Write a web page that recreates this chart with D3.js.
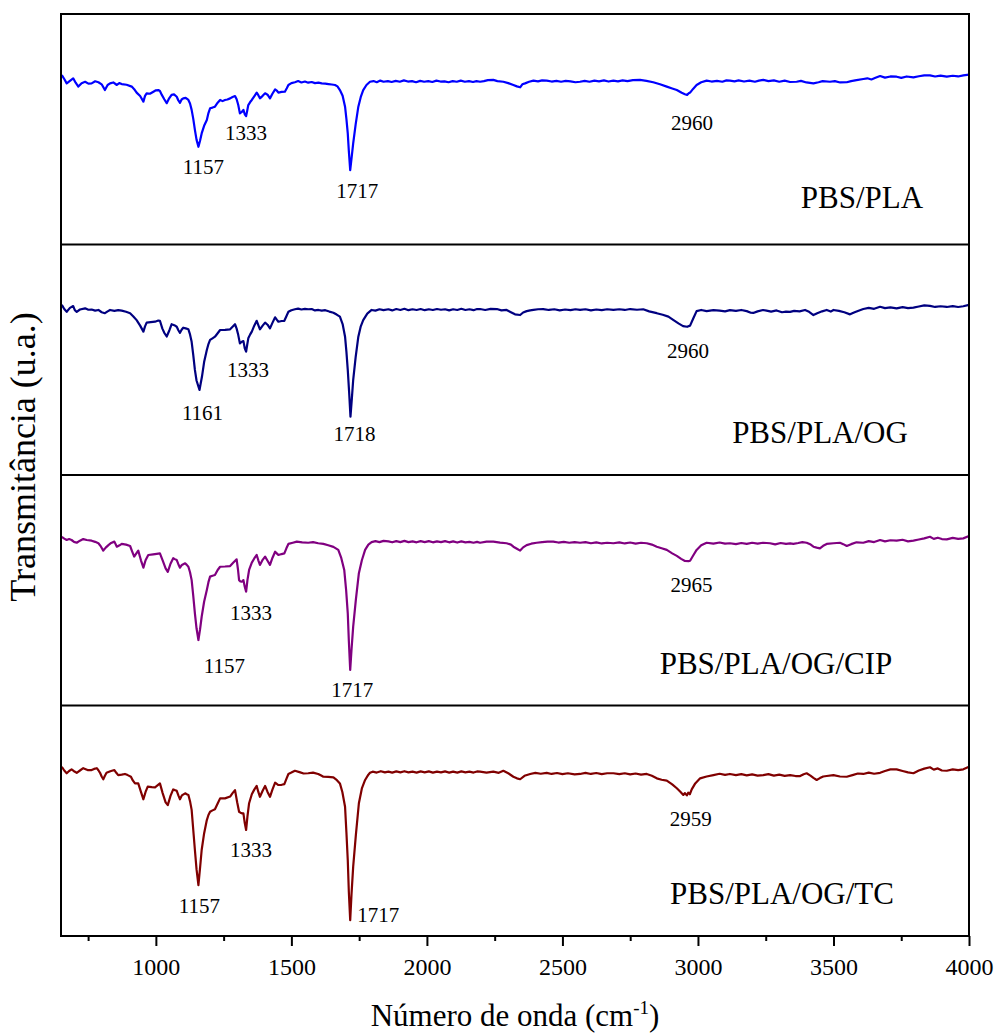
<!DOCTYPE html>
<html>
<head>
<meta charset="utf-8">
<script src="https://cdn.jsdelivr.net/npm/d3@7"></script>
<style>
  html, body { margin: 0; padding: 0; background: #fff; }
  svg { display: block; }
  text { font-family: "Times New Roman", "Liberation Serif", serif; fill: #000; }
</style>
</head>
<body>
<svg id="chart" width="998" height="1035"></svg>
<script>
// FTIR spectra: [wavenumber (cm-1), transmittance (a.u.)]
const pbsPla = [[653,73.5],[662,71.8],[671,69.9],[683,71.0],[695,72.1],[704,70.2],[714,68.5],[726,70.0],[739,70.6],[751,69.8],[763,69.9],[776,70.8],[788,70.4],[800,69.5],[812,67.0],[822,69.2],[831,69.9],[843,70.3],[856,69.2],[865,70.0],[874,69.6],[892,69.3],[911,68.5],[920,67.4],[929,65.9],[942,64.4],[954,62.0],[960,64.5],[966,65.6],[978,65.4],[991,66.3],[1000,66.9],[1009,67.0],[1015,66.6],[1022,64.9],[1031,63.0],[1040,61.3],[1049,63.4],[1058,64.9],[1067,65.1],[1077,64.1],[1083,62.5],[1089,61.5],[1095,62.9],[1101,63.4],[1110,63.6],[1120,62.7],[1126,61.2],[1132,58.4],[1138,54.5],[1144,49.7],[1150,45.5],[1157,42.4],[1163,45.0],[1169,48.2],[1178,51.5],[1188,54.0],[1194,57.0],[1200,59.1],[1209,59.4],[1218,59.8],[1228,61.5],[1237,62.7],[1246,62.2],[1255,62.7],[1264,62.9],[1274,63.4],[1283,64.0],[1292,64.4],[1298,63.0],[1304,60.5],[1310,56.9],[1317,57.5],[1323,58.4],[1328,56.5],[1333,55.7],[1337,58.0],[1341,60.5],[1348,61.8],[1354,62.7],[1363,64.3],[1372,65.9],[1378,64.8],[1384,63.4],[1394,64.5],[1403,65.6],[1412,65.0],[1421,63.4],[1430,65.4],[1440,67.3],[1446,66.8],[1452,65.9],[1464,66.2],[1476,66.3],[1483,67.8],[1489,69.2],[1500,70.0],[1513,70.4],[1525,70.9],[1537,70.3],[1550,70.7],[1562,70.2],[1575,70.5],[1587,70.0],[1600,70.2],[1612,69.9],[1625,69.8],[1637,69.6],[1649,69.4],[1661,69.2],[1670,68.6],[1679,67.0],[1689,64.5],[1698,59.8],[1703,54.5],[1708,48.2],[1712,40.5],[1717,32.3],[1722,37.5],[1728,43.9],[1737,52.0],[1747,59.8],[1756,64.0],[1765,67.0],[1777,69.2],[1790,70.6],[1803,70.9],[1815,70.4],[1828,71.1],[1840,70.6],[1856,70.9],[1870,70.5],[1885,71.0],[1900,70.6],[1915,71.2],[1930,70.7],[1945,70.9],[1960,70.4],[1975,71.0],[1990,70.6],[2005,70.9],[2020,70.5],[2035,71.1],[2050,70.7],[2065,70.8],[2080,70.4],[2095,70.9],[2110,70.6],[2125,71.1],[2140,70.6],[2155,70.9],[2170,70.5],[2183,70.9],[2196,70.6],[2210,70.9],[2225,71.3],[2245,71.4],[2260,70.9],[2282,70.6],[2300,70.0],[2319,69.2],[2332,68.6],[2344,68.2],[2352,69.5],[2362,69.9],[2377,70.6],[2393,71.1],[2410,70.8],[2425,71.2],[2442,71.1],[2460,70.7],[2478,71.0],[2495,70.6],[2512,71.0],[2530,70.8],[2548,70.4],[2565,70.6],[2582,71.0],[2600,70.6],[2618,71.1],[2635,70.8],[2653,71.2],[2670,70.7],[2688,71.1],[2705,70.8],[2722,71.2],[2740,70.9],[2760,71.3],[2786,71.4],[2810,71.0],[2835,70.4],[2860,69.5],[2885,68.5],[2905,67.7],[2922,67.0],[2940,65.8],[2952,65.2],[2960,64.9],[2966,65.6],[2971,65.9],[2982,67.5],[2995,69.2],[3012,70.4],[3032,71.1],[3050,70.7],[3070,71.0],[3090,70.6],[3105,71.2],[3118,71.1],[3135,70.8],[3150,71.2],[3170,70.7],[3190,71.1],[3210,70.6],[3225,71.1],[3241,71.4],[3260,70.9],[3280,71.2],[3300,70.6],[3320,71.1],[3340,70.5],[3364,70.6],[3380,71.0],[3400,70.3],[3426,69.9],[3445,70.4],[3460,70.9],[3487,70.6],[3505,70.9],[3525,70.3],[3549,70.4],[3565,70.9],[3585,71.3],[3610,71.8],[3625,72.1],[3640,71.6],[3655,72.3],[3672,73.1],[3690,72.4],[3710,72.9],[3733,72.8],[3750,72.3],[3770,72.9],[3795,72.5],[3815,73.0],[3835,73.4],[3856,73.4],[3875,72.9],[3895,73.3],[3918,72.8],[3940,73.2],[3960,72.9],[3979,73.4],[4000,73.7]];

const pbsPlaOg = [[653,73.8],[662,72.0],[671,70.8],[683,72.5],[695,73.3],[701,71.5],[708,70.8],[720,71.8],[739,72.3],[751,71.7],[763,71.8],[776,71.3],[788,71.6],[800,70.6],[812,70.2],[822,71.0],[831,71.6],[847,71.2],[861,71.5],[874,71.3],[890,70.8],[905,70.2],[917,68.8],[929,67.2],[942,64.8],[954,62.2],[960,64.5],[966,66.1],[981,66.3],[997,66.5],[1009,67.0],[1015,66.9],[1024,63.5],[1032,61.5],[1040,60.1],[1050,62.8],[1058,65.4],[1068,65.0],[1077,64.3],[1083,62.8],[1089,61.7],[1095,63.0],[1101,63.9],[1110,63.6],[1120,63.2],[1126,61.0],[1132,57.8],[1138,52.0],[1144,45.6],[1150,41.0],[1161,36.9],[1165,39.5],[1170,42.6],[1178,49.0],[1188,54.2],[1194,56.8],[1200,58.6],[1209,59.3],[1218,60.0],[1228,61.5],[1237,62.9],[1255,63.0],[1274,63.2],[1283,64.3],[1292,65.4],[1298,63.5],[1304,60.7],[1310,57.1],[1317,57.8],[1323,58.1],[1328,55.0],[1333,53.5],[1337,56.5],[1341,59.3],[1348,61.0],[1354,62.2],[1363,64.8],[1372,66.9],[1378,65.0],[1384,63.2],[1394,64.8],[1403,66.1],[1412,65.2],[1421,63.6],[1430,66.0],[1440,68.4],[1446,67.4],[1452,66.5],[1464,66.8],[1474,66.9],[1482,69.0],[1489,70.8],[1500,71.5],[1513,71.9],[1525,72.2],[1537,71.8],[1550,72.1],[1562,71.9],[1575,72.0],[1587,71.4],[1600,71.6],[1612,71.3],[1625,71.5],[1640,70.9],[1655,70.4],[1667,69.6],[1679,68.7],[1689,65.5],[1698,60.0],[1703,53.5],[1708,45.6],[1713,36.0],[1718,25.3],[1723,33.0],[1728,41.2],[1737,51.0],[1747,60.0],[1756,64.5],[1765,67.2],[1780,70.0],[1796,71.6],[1810,71.3],[1825,71.9],[1840,71.5],[1858,71.9],[1872,71.4],[1887,72.0],[1902,71.6],[1917,72.1],[1932,71.5],[1947,71.9],[1962,71.6],[1977,72.0],[1992,71.5],[2007,71.9],[2022,71.6],[2037,72.0],[2052,71.7],[2067,71.9],[2082,71.4],[2097,71.9],[2112,71.6],[2127,72.1],[2142,71.6],[2157,71.9],[2172,71.5],[2185,72.0],[2196,72.0],[2215,71.6],[2235,72.1],[2258,72.0],[2275,71.4],[2294,71.6],[2310,70.6],[2325,69.7],[2344,69.4],[2355,70.5],[2368,71.1],[2381,71.4],[2393,71.6],[2410,71.9],[2429,72.0],[2450,71.6],[2470,71.9],[2490,71.4],[2510,71.8],[2530,71.5],[2548,71.9],[2565,71.6],[2585,71.9],[2605,71.4],[2625,71.8],[2645,71.5],[2665,71.9],[2688,71.6],[2710,71.9],[2730,71.6],[2750,72.0],[2775,71.7],[2798,71.9],[2820,71.0],[2848,70.2],[2870,69.5],[2891,68.7],[2910,67.2],[2928,65.8],[2945,64.6],[2960,64.3],[2971,64.8],[2983,68.0],[2995,71.1],[3012,71.6],[3032,71.1],[3057,71.5],[3080,71.3],[3100,71.0],[3118,71.5],[3140,71.2],[3160,71.6],[3180,71.1],[3195,70.4],[3204,70.3],[3220,71.0],[3240,71.6],[3253,71.3],[3270,70.9],[3290,71.4],[3310,70.6],[3325,70.9],[3340,70.8],[3355,71.2],[3375,71.0],[3395,71.6],[3410,70.8],[3426,69.4],[3440,70.2],[3458,71.0],[3475,71.6],[3490,70.9],[3500,71.6],[3520,71.2],[3540,70.6],[3561,69.7],[3578,70.6],[3595,71.4],[3610,72.0],[3630,72.5],[3650,72.1],[3672,73.0],[3690,72.4],[3710,72.7],[3733,72.3],[3755,72.8],[3775,72.4],[3795,72.6],[3815,73.1],[3835,73.6],[3856,73.4],[3875,72.9],[3895,73.2],[3918,72.9],[3940,73.3],[3960,72.9],[3979,73.2],[4000,73.8]];

const pbsPlaOgCip = [[653,73.2],[662,72.4],[671,71.8],[680,72.2],[689,71.8],[698,71.0],[708,70.6],[720,71.5],[732,72.2],[745,71.8],[763,71.5],[776,71.0],[788,70.4],[797,69.0],[806,67.2],[815,68.5],[825,69.6],[835,70.5],[847,71.1],[856,68.9],[866,69.5],[874,70.1],[890,69.8],[905,69.2],[912,67.0],[920,64.6],[928,66.0],[935,67.2],[945,63.0],[954,59.8],[962,63.0],[972,65.3],[990,65.6],[1003,65.8],[1015,66.0],[1025,63.0],[1036,59.5],[1044,58.0],[1054,61.5],[1064,63.9],[1070,63.5],[1077,63.1],[1083,61.3],[1089,59.8],[1096,61.0],[1108,61.7],[1114,61.0],[1120,60.2],[1126,57.8],[1132,54.4],[1138,47.5],[1144,40.0],[1150,33.5],[1157,28.4],[1163,33.0],[1169,38.5],[1178,45.0],[1188,50.1],[1194,53.5],[1200,55.9],[1209,56.3],[1218,56.6],[1228,58.8],[1237,60.2],[1255,60.3],[1274,60.5],[1286,62.0],[1298,63.4],[1303,59.0],[1307,54.4],[1312,53.8],[1317,53.7],[1323,54.4],[1328,51.5],[1333,49.4],[1338,54.5],[1344,58.8],[1354,62.0],[1363,63.8],[1372,65.3],[1378,63.0],[1384,61.0],[1394,63.2],[1403,64.6],[1412,62.8],[1421,61.0],[1430,64.0],[1440,66.7],[1446,66.0],[1452,65.3],[1464,65.7],[1474,66.0],[1482,68.3],[1489,70.1],[1505,70.6],[1520,71.1],[1540,70.8],[1562,70.6],[1580,70.9],[1599,70.4],[1618,70.1],[1636,69.5],[1655,68.8],[1673,67.5],[1684,64.0],[1695,58.8],[1702,50.0],[1708,40.0],[1712,28.0],[1717,15.4],[1722,24.5],[1728,34.2],[1738,46.0],[1749,57.4],[1760,63.0],[1772,67.5],[1784,69.8],[1796,70.9],[1810,71.3],[1825,70.9],[1840,71.4],[1858,71.2],[1872,70.8],[1887,71.3],[1902,70.9],[1917,71.4],[1932,70.9],[1947,71.2],[1962,70.8],[1977,71.3],[1992,70.9],[2007,71.3],[2022,70.8],[2037,71.2],[2052,70.9],[2067,71.3],[2082,70.8],[2097,71.2],[2112,70.7],[2127,71.2],[2142,70.8],[2157,71.0],[2172,70.6],[2185,71.0],[2196,70.6],[2220,71.1],[2245,71.1],[2270,70.7],[2294,70.4],[2310,69.8],[2319,68.9],[2332,68.0],[2344,67.2],[2355,68.6],[2368,69.6],[2385,70.2],[2405,70.6],[2425,70.9],[2445,71.1],[2466,71.1],[2485,70.7],[2505,71.0],[2525,70.6],[2545,70.9],[2565,70.6],[2585,70.9],[2605,70.4],[2625,70.8],[2645,70.3],[2665,70.6],[2688,70.4],[2710,70.8],[2730,70.3],[2750,70.7],[2770,70.2],[2790,70.6],[2811,70.4],[2830,69.8],[2848,68.9],[2866,68.2],[2885,67.5],[2905,66.0],[2922,64.9],[2938,63.6],[2952,62.7],[2965,62.6],[2971,62.8],[2983,65.2],[2995,67.5],[3012,69.5],[3032,70.6],[3057,70.2],[3080,70.7],[3100,70.2],[3118,70.4],[3140,70.0],[3160,70.5],[3180,70.1],[3200,70.6],[3220,70.2],[3240,70.6],[3266,70.4],[3285,69.9],[3305,70.5],[3325,70.1],[3340,70.3],[3352,70.1],[3370,70.5],[3385,70.9],[3401,70.6],[3416,69.8],[3426,68.9],[3438,68.5],[3450,68.2],[3462,69.3],[3475,70.1],[3500,70.4],[3524,70.6],[3536,70.0],[3549,69.2],[3565,70.0],[3585,70.8],[3610,70.6],[3630,71.3],[3650,70.9],[3672,71.8],[3690,71.2],[3710,71.7],[3733,71.5],[3755,71.9],[3775,71.2],[3795,71.5],[3815,72.0],[3835,72.5],[3856,73.2],[3870,72.3],[3885,72.8],[3900,72.2],[3918,72.1],[3940,72.7],[3960,72.3],[3979,72.5],[4000,73.5]];

const pbsPlaOgTc = [[653,73.4],[662,71.8],[671,70.6],[680,71.6],[689,72.3],[698,71.5],[708,70.8],[720,71.8],[732,72.8],[748,72.0],[763,72.0],[772,72.5],[782,72.8],[788,71.9],[794,70.8],[800,69.2],[806,68.0],[812,69.5],[818,70.8],[832,71.5],[847,72.0],[854,70.8],[861,69.8],[874,70.0],[886,70.3],[896,69.8],[908,69.1],[915,67.5],[923,66.2],[935,66.2],[945,62.5],[954,59.3],[962,62.5],[970,64.8],[985,64.6],[997,64.5],[1015,66.2],[1025,62.0],[1036,58.0],[1044,56.8],[1054,60.8],[1064,63.6],[1070,63.3],[1077,63.0],[1083,61.0],[1089,59.3],[1096,61.0],[1108,61.9],[1114,61.5],[1120,61.2],[1126,58.5],[1132,54.7],[1138,46.0],[1144,37.3],[1150,29.0],[1157,22.1],[1163,29.5],[1169,37.3],[1178,44.5],[1188,50.3],[1194,52.5],[1200,53.9],[1209,54.5],[1218,55.0],[1228,57.5],[1237,59.7],[1255,59.7],[1274,60.5],[1283,62.0],[1292,63.3],[1300,58.0],[1307,53.9],[1312,53.5],[1319,53.2],[1323,53.2],[1328,49.0],[1333,46.0],[1338,52.0],[1344,57.6],[1354,61.5],[1363,63.5],[1372,65.1],[1378,62.5],[1384,60.4],[1394,63.0],[1403,65.1],[1412,62.5],[1421,60.4],[1430,63.5],[1440,66.5],[1446,66.0],[1452,65.5],[1464,65.6],[1474,65.9],[1482,68.3],[1489,70.3],[1500,70.9],[1513,71.7],[1530,71.1],[1545,70.5],[1562,70.6],[1580,70.9],[1599,70.3],[1610,69.6],[1618,69.1],[1636,69.0],[1655,68.8],[1668,67.6],[1679,66.2],[1688,62.5],[1698,56.1],[1703,45.0],[1708,33.0],[1712,19.0],[1717,6.9],[1722,18.5],[1728,30.1],[1738,44.0],[1749,57.6],[1760,64.0],[1772,67.7],[1784,70.0],[1790,70.8],[1800,71.3],[1815,70.9],[1830,71.5],[1845,71.0],[1858,71.3],[1872,70.9],[1887,71.4],[1902,71.0],[1917,71.5],[1932,71.0],[1947,71.3],[1962,70.9],[1977,71.4],[1992,71.0],[2007,71.4],[2022,70.9],[2037,71.3],[2052,71.0],[2067,71.4],[2082,70.9],[2097,71.3],[2112,70.9],[2127,71.4],[2142,71.0],[2157,71.3],[2172,70.9],[2185,71.4],[2196,71.3],[2220,70.9],[2245,71.3],[2265,70.8],[2282,71.7],[2300,70.6],[2319,69.1],[2332,68.4],[2344,68.0],[2360,69.5],[2381,70.3],[2400,70.8],[2420,70.4],[2442,70.8],[2460,70.3],[2480,70.7],[2500,70.2],[2520,70.6],[2545,70.1],[2565,70.3],[2585,70.8],[2605,70.3],[2625,70.7],[2645,70.2],[2665,70.6],[2688,70.6],[2710,70.2],[2730,70.6],[2750,70.1],[2770,70.5],[2790,70.0],[2811,70.3],[2830,69.5],[2848,68.4],[2866,67.8],[2885,67.4],[2905,65.8],[2922,64.1],[2935,62.6],[2946,61.2],[2952,62.0],[2959,61.0],[2964,62.2],[2970,61.5],[2977,63.6],[2990,66.2],[3008,68.4],[3032,69.2],[3057,69.8],[3080,70.4],[3100,69.9],[3118,70.3],[3140,69.8],[3160,70.2],[3180,69.7],[3200,70.1],[3220,69.6],[3241,69.8],[3260,70.2],[3280,69.6],[3300,70.0],[3320,69.5],[3340,69.8],[3360,69.4],[3377,69.4],[3390,70.2],[3401,70.6],[3415,69.6],[3426,68.6],[3438,67.7],[3450,68.5],[3462,69.2],[3475,69.4],[3500,69.8],[3524,69.2],[3549,69.1],[3570,69.8],[3590,70.5],[3610,70.3],[3630,70.9],[3650,70.4],[3672,70.8],[3690,71.6],[3710,72.3],[3733,72.3],[3755,71.6],[3775,71.0],[3795,70.6],[3815,71.8],[3835,72.6],[3856,73.2],[3870,72.2],[3885,72.7],[3900,71.8],[3918,71.7],[3940,72.3],[3960,72.0],[3979,72.3],[4000,73.4]];

// Sample names, one per panel (top to bottom)
const sampleNames = ["PBS/PLA", "PBS/PLA/OG", "PBS/PLA/OG/CIP", "PBS/PLA/OG/TC"];

// Marked band positions (cm-1) per sample
const bandsPbsPla = [1157, 1333, 1717, 2960];
const bandsPbsPlaOg = [1161, 1333, 1718, 2960];
const bandsPbsPlaOgCip = [1157, 1333, 1717, 2965];
const bandsPbsPlaOgTc = [1157, 1333, 1717, 2959];

// Axis ticks
const majorTicks = [1000, 1500, 2000, 2500, 3000, 3500, 4000];
const minorTicks = [750, 1250, 1750, 2250, 2750, 3250, 3750];

const series = [pbsPla, pbsPlaOg, pbsPlaOgCip, pbsPlaOgTc];
const bands = [bandsPbsPla, bandsPbsPlaOg, bandsPbsPlaOgCip, bandsPbsPlaOgTc];
const colors = ["#0000ff", "#000080", "#800080", "#800000"];

const serif = "'Times New Roman', 'Liberation Serif', serif";

// Layout
const plotLeft = 61, plotRight = 969, plotTop = 14, plotBottom = 936;
const panelH = (plotBottom - plotTop) / 4;

// Band label offsets in px relative to the band minimum [dx, dy]
const bandOffsets = [
  [[5, 27], [0, 24], [7, 28], [5, 35]],
  [[3, 30], [2, 25], [4, 24], [1, 31]],
  [[26, 33], [5, 28], [2, 27], [3, 31]],
  [[1, 28], [5, 27], [28, 2], [4, 31]]
];
const nameX = [862, 820, 776, 782];
const nameDy = [-37, -32, -32, -32];

const svg = d3.select("#chart");

const x = d3.scaleLinear().domain([650, 4000]).range([plotLeft, plotRight]);

series.forEach((data, i) => {
  const y0 = plotTop + panelH * (i + 1);
  const y = d3.scaleLinear().domain([0, 100]).range([y0, y0 - panelH]);
  const line = d3.line().x(d => x(d[0])).y(d => y(d[1]));

  svg.append("path")
    .datum(data)
    .attr("d", line)
    .attr("fill", "none")
    .attr("stroke", colors[i])
    .attr("stroke-width", 2.2)
    .attr("stroke-linejoin", "round");

  // Labels for marked bands, placed below each minimum
  const lut = new Map(data.map(d => [d[0], d[1]]));
  bands[i].forEach((b, k) => {
    const v = lut.has(b) ? lut.get(b) : d3.least(data, d => Math.abs(d[0] - b))[1];
    svg.append("text")
      .attr("x", x(b) + bandOffsets[i][k][0])
      .attr("y", y(v) + bandOffsets[i][k][1])
      .attr("text-anchor", "middle")
      .attr("font-size", 21)
      .text(b);
  });

  svg.append("text")
    .attr("x", nameX[i])
    .attr("y", y0 + nameDy[i])
    .attr("text-anchor", "middle")
    .attr("font-size", 31)
    .text(sampleNames[i]);

  if (i < 3) {
    svg.append("line")
      .attr("x1", plotLeft).attr("x2", plotRight)
      .attr("y1", y0).attr("y2", y0)
      .attr("stroke", "#000").attr("stroke-width", 2);
  }
});

// Frame
svg.append("rect")
  .attr("x", plotLeft).attr("y", plotTop)
  .attr("width", plotRight - plotLeft).attr("height", plotBottom - plotTop)
  .attr("fill", "none").attr("stroke", "#000").attr("stroke-width", 2);

// Bottom axis: major ticks with labels, minor ticks without
const axisMajor = d3.axisBottom(x).tickValues(majorTicks).tickSize(10).tickPadding(12).tickFormat(d3.format("d"));
const axisMinor = d3.axisBottom(x).tickValues(minorTicks).tickSize(5).tickFormat("");

const gMajor = svg.append("g").attr("transform", `translate(0,${plotBottom})`).call(axisMajor);
const gMinor = svg.append("g").attr("transform", `translate(0,${plotBottom})`).call(axisMinor);
[gMajor, gMinor].forEach(g => {
  g.attr("font-family", serif);
  g.select(".domain").remove();
  g.selectAll(".tick line").attr("stroke", "#000").attr("stroke-width", 2);
});
gMajor.selectAll(".tick text")
  .style("font-family", serif)
  .attr("font-size", 24)
  .attr("fill", "#000");

// Axis titles
const xTitle = svg.append("text")
  .attr("x", (plotLeft + plotRight) / 2)
  .attr("y", 1026)
  .attr("text-anchor", "middle")
  .attr("font-size", 31);
xTitle.append("tspan").text("Número de onda (cm");
xTitle.append("tspan").attr("font-size", 19).attr("dy", -12).text("-1");
xTitle.append("tspan").attr("dy", 12).text(")");

svg.append("text")
  .attr("transform", `translate(35,${(plotTop + plotBottom) / 2 - 18}) rotate(-90)`)
  .attr("text-anchor", "middle")
  .attr("font-size", 36)
  .text("Transmitância (u.a.)");
</script>
</body>
</html>
